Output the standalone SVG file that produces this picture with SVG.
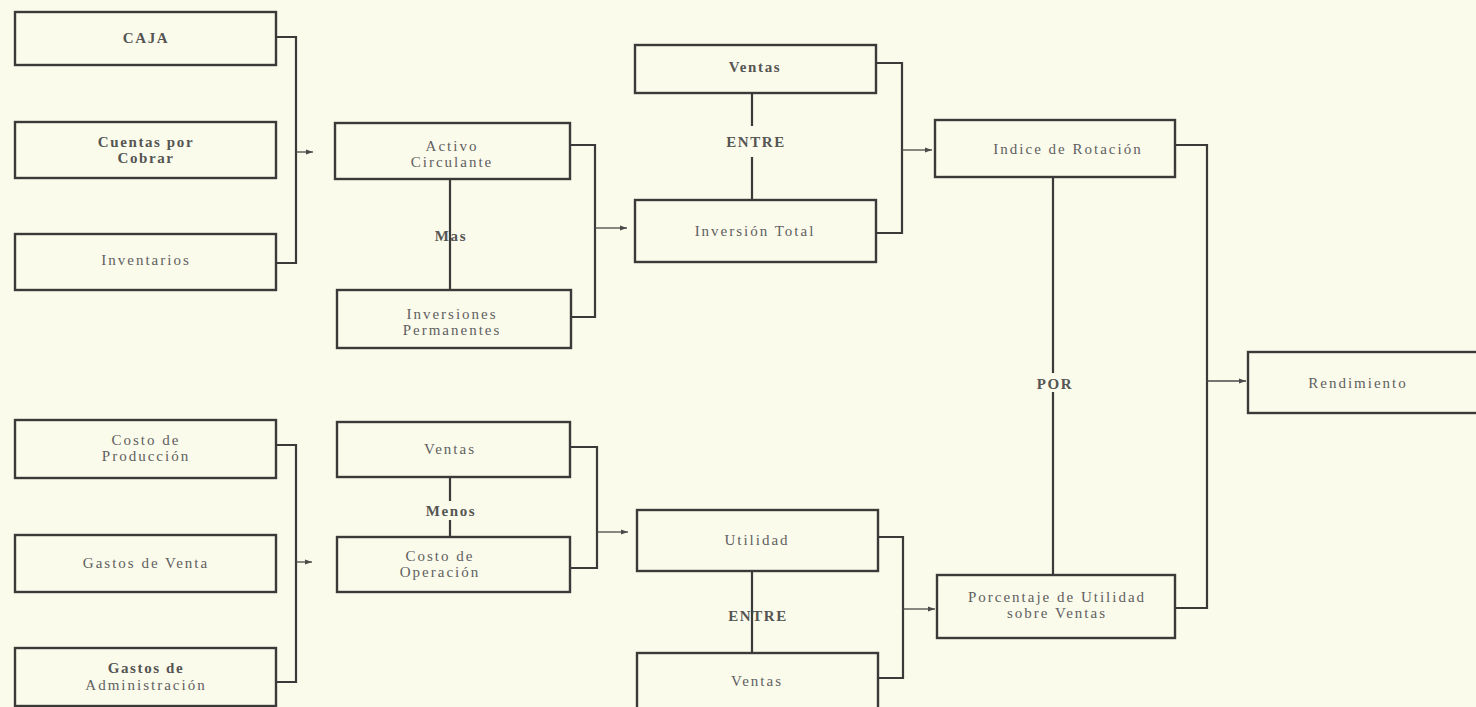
<svg xmlns="http://www.w3.org/2000/svg" width="1476" height="707" viewBox="0 0 1476 707">
<defs>
<style>
.box{fill:none;stroke:#3a3a38;stroke-width:2.4}
.ln{fill:none;stroke:#3a3a38;stroke-width:2.2}
.arr{fill:none;stroke:#4a4a48;stroke-width:1.3;marker-end:url(#ah)}
text{font-family:"Liberation Serif","DejaVu Serif",serif;font-size:15px;fill:#606060;text-anchor:middle;letter-spacing:2px}
.b{font-weight:bold;fill:#555553;letter-spacing:1.6px}
</style>
<marker id="ah" markerWidth="8" markerHeight="6" refX="7" refY="3" orient="auto" markerUnits="userSpaceOnUse">
<path d="M0,0.5 L7,3 L0,5.5 Z" fill="#4a4a48"/>
</marker>
</defs>
<rect width="1476" height="707" fill="#fbfbec"/>

<g id="connectors">
<path class="ln" d="M276,37 H296 V263 H276"/>
<path class="arr" d="M296,152 H313"/>
<path class="ln" d="M450,179 V290"/>
<path class="ln" d="M570,145 H595 V317 H571"/>
<path class="arr" d="M595,228 H627"/>
<path class="ln" d="M752,93 V126 M752,157 V200"/>
<path class="ln" d="M876,63 H902 V233 H876"/>
<path class="arr" d="M902,150 H932"/>
<path class="ln" d="M1175,145 H1207 V608 H1175"/>
<path class="arr" d="M1207,381 H1246"/>
<path class="ln" d="M1053,177 V373 M1053,392 V575"/>
<path class="ln" d="M276,445 H296 V682 H276"/>
<path class="arr" d="M296,562 H312"/>
<path class="ln" d="M450,477 V501 M450,520 V537"/>
<path class="ln" d="M570,447 H597 V568 H570"/>
<path class="arr" d="M597,532 H628"/>
<path class="ln" d="M752,571 V653"/>
<path class="ln" d="M878,537 H903 V678 H878"/>
<path class="arr" d="M903,609 H935"/>
<text class="b" x="451" y="241">Mas</text>
<text class="b" x="756" y="147">ENTRE</text>
<text class="b" x="1055" y="389">POR</text>
<text class="b" x="451" y="516">Menos</text>
<text class="b" x="758" y="621">ENTRE</text>
</g>

<g id="caja"><rect class="box" x="15" y="12" width="261" height="53"/><text class="b" x="146" y="43">CAJA</text></g>
<g id="cuentas"><rect class="box" x="15" y="122" width="261" height="56"/><text class="b" x="146" y="147">Cuentas por</text><text class="b" x="146" y="163">Cobrar</text></g>
<g id="inventarios"><rect class="box" x="15" y="234" width="261" height="56"/><text x="146" y="265">Inventarios</text></g>
<g id="activo"><rect class="box" x="335" y="123" width="235" height="56"/><text x="452" y="151">Activo</text><text x="452" y="167">Circulante</text></g>
<g id="inversiones"><rect class="box" x="337" y="290" width="234" height="58"/><text x="452" y="319">Inversiones</text><text x="452" y="335">Permanentes</text></g>
<g id="ventas1"><rect class="box" x="635" y="45" width="241" height="48"/><text class="b" x="755" y="72">Ventas</text></g>
<g id="invtotal"><rect class="box" x="635" y="200" width="241" height="62"/><text x="755" y="236">Inversión Total</text></g>
<g id="indice"><rect class="box" x="935" y="120" width="240" height="57"/><text x="1068" y="154">Indice de Rotación</text></g>
<g id="rendimiento"><rect class="box" x="1248" y="352" width="240" height="61"/><text x="1358" y="388">Rendimiento</text></g>
<g id="costoprod"><rect class="box" x="15" y="420" width="261" height="58"/><text x="146" y="445">Costo de</text><text x="146" y="461">Producción</text></g>
<g id="gastosventa"><rect class="box" x="15" y="535" width="261" height="57"/><text x="146" y="568">Gastos de Venta</text></g>
<g id="gastosadmin"><rect class="box" x="15" y="648" width="261" height="58"/><text class="b" x="146" y="673">Gastos de</text><text x="146" y="690">Administración</text></g>
<g id="ventas2"><rect class="box" x="337" y="422" width="233" height="55"/><text x="450" y="454">Ventas</text></g>
<g id="costoop"><rect class="box" x="337" y="537" width="233" height="55"/><text x="440" y="561">Costo  de</text><text x="440" y="577">Operación</text></g>
<g id="utilidad"><rect class="box" x="637" y="510" width="241" height="61"/><text x="757" y="545">Utilidad</text></g>
<g id="ventas3"><rect class="box" x="637" y="653" width="241" height="60"/><text x="757" y="686">Ventas</text></g>
<g id="porcentaje"><rect class="box" x="937" y="575" width="238" height="63"/><text x="1057" y="602">Porcentaje de Utilidad</text><text x="1057" y="618">sobre Ventas</text></g>
</svg>
